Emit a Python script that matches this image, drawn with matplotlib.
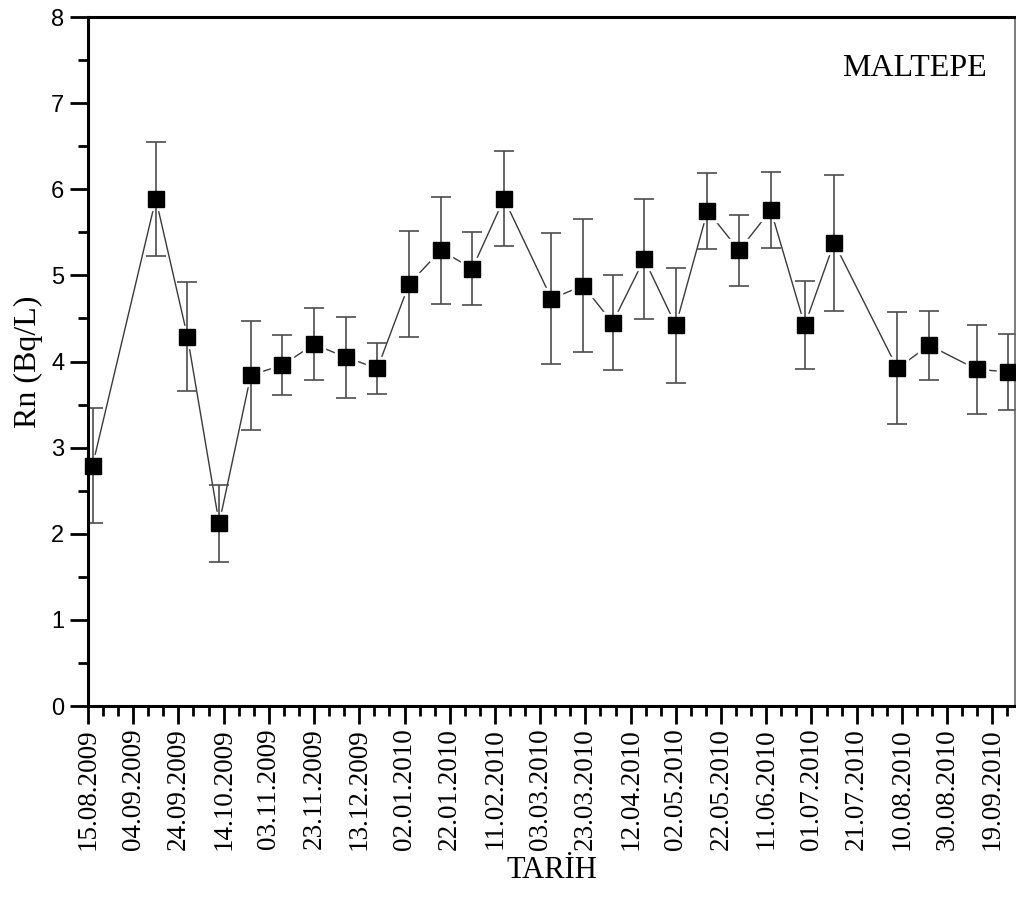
import datetime as dt
import matplotlib
matplotlib.use("Agg")
import matplotlib.pyplot as plt
import matplotlib.dates as mdates
from matplotlib.ticker import MultipleLocator

# Radon measurements at Maltepe
dates = ["17.08.2009", "14.09.2009", "28.09.2009", "12.10.2009", "26.10.2009",
         "09.11.2009", "23.11.2009", "07.12.2009", "21.12.2009", "04.01.2010",
         "18.01.2010", "01.02.2010", "15.02.2010", "08.03.2010", "22.03.2010",
         "04.04.2010", "18.04.2010", "02.05.2010", "16.05.2010", "30.05.2010",
         "13.06.2010", "28.06.2010", "11.07.2010", "08.08.2010", "22.08.2010",
         "12.09.2010", "26.09.2010"]
rn = [2.79, 5.89, 4.29, 2.12, 3.84, 3.96, 4.20, 4.05, 3.92, 4.90,
      5.29, 5.08, 5.89, 4.73, 4.88, 4.45, 5.19, 4.42, 5.75, 5.29,
      5.76, 4.42, 5.38, 3.92, 4.19, 3.91, 3.88]
rn_err = [0.67, 0.66, 0.63, 0.45, 0.63, 0.35, 0.42, 0.47, 0.30, 0.61,
          0.62, 0.42, 0.55, 0.76, 0.77, 0.55, 0.70, 0.67, 0.44, 0.41,
          0.44, 0.51, 0.79, 0.65, 0.40, 0.52, 0.44]

start_date = "15.08.2009"
span_days = 410
station = "MALTEPE"

plt.rcParams["font.family"] = ["Liberation Serif", "DejaVu Serif"]

x = [mdates.date2num(dt.datetime.strptime(d, "%d.%m.%Y")) for d in dates]
x0 = mdates.date2num(dt.datetime.strptime(start_date, "%d.%m.%Y"))

fig = plt.figure(figsize=(10.16, 8.97), dpi=100)
ax = fig.add_axes([0.0866, 0.2129, 0.9124, 0.7681])

# connecting line, with white halos so it stops short of each marker
ax.plot(x, rn, color="#3a3a3a", lw=1.0, zorder=1)
ax.plot(x, rn, ls="none", marker="s", ms=16, mfc="white", mec="white", zorder=1.5)
ax.errorbar(x, rn, yerr=rn_err, fmt="none", ecolor="#4d4d4d", elinewidth=1.2,
            capsize=7, capthick=1.2, zorder=2)
ax.plot(x, rn, ls="none", marker="s", ms=11, mfc="black", mec="black", zorder=3,
        clip_on=False)

ax.set_xlim(x0, x0 + span_days)
ax.set_ylim(0, 8)

ax.xaxis.set_major_locator(MultipleLocator(20, offset=x0 % 20))
ax.xaxis.set_minor_locator(MultipleLocator(20 / 3, offset=x0 % (20 / 3)))
ax.xaxis.set_major_formatter(mdates.DateFormatter("%d.%m.%Y"))
ax.yaxis.set_major_locator(MultipleLocator(1))
ax.yaxis.set_minor_locator(MultipleLocator(0.5))

ax.tick_params(axis="both", which="major", direction="out", length=13, width=2,
               color="black")
ax.tick_params(axis="both", which="minor", direction="out", length=7, width=2,
               color="black")
ax.tick_params(axis="x", which="major", pad=3, labelsize=19.5, labelrotation=90)
ax.tick_params(axis="y", which="major", pad=4, labelsize=17,
               labelfontfamily="Liberation Sans")

for side in ("left", "bottom", "top"):
    ax.spines[side].set_linewidth(2.2)
    ax.spines[side].set_color("black")
ax.spines["right"].set_linewidth(1.2)
ax.spines["right"].set_color("#666666")

ax.set_ylabel("Rn (Bq/L)", fontsize=23, labelpad=6)
ax.set_xlabel("TARİH", fontsize=22, labelpad=4)

ax.text(0.97, 0.925, station, transform=ax.transAxes, ha="right", va="center",
        fontsize=23)

fig.savefig("out.png", dpi=100)
